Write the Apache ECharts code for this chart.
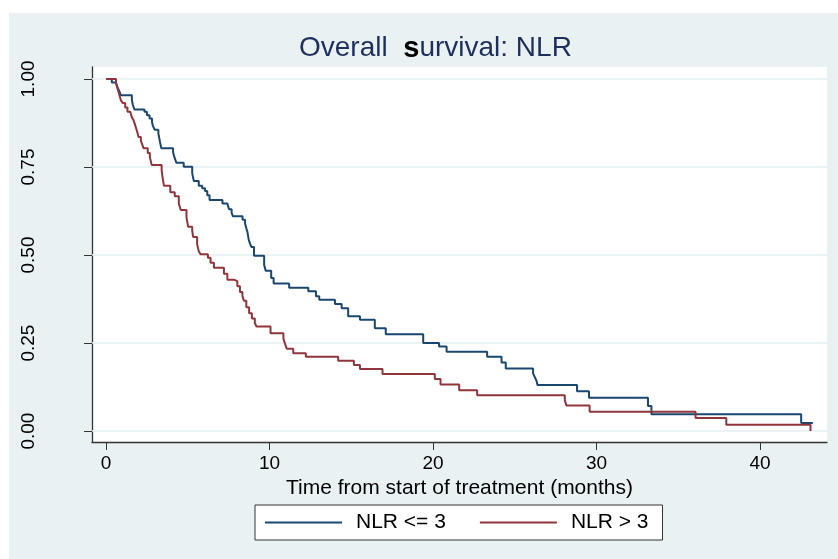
<!DOCTYPE html>
<html>
<head>
<meta charset="utf-8">
<script src="https://cdn.jsdelivr.net/npm/echarts@6/dist/echarts.min.js"></script>
<style>
  html, body { margin: 0; padding: 0; background: #ffffff; }
  #chart { width: 838px; height: 559px; }
</style>
</head>
<body>
<div id="chart"></div>
<script>
// survival curves (time in months, survival proportion)
var blueTime = [0, 0.35, 0.6, 0.7, 0.82, 0.9, 1.58, 1.64, 1.74, 2.35, 2.5, 2.66, 2.81, 2.87, 2.98, 3.2, 3.3, 3.38,
  4.1, 4.18, 4.3, 4.75, 5.27, 5.37, 5.67, 5.88, 6.05, 6.19, 6.33, 7.12, 7.42, 7.52, 7.68, 7.76, 8.35, 8.5, 8.58,
  8.65, 8.72, 8.8, 8.89, 9.05, 9.67, 9.77, 10.1, 10.25, 11.2, 12.37, 12.84, 13.04, 14.0, 14.41, 14.81, 15.53,
  16.44, 17.11, 19.4, 20.37, 20.83, 23.31, 24.19, 24.45, 26.12, 26.22, 26.33, 26.39, 28.81, 29.54, 33.15, 33.36,
  42.52, 43.23];
var blueSurv = [1.0, 0.99, 0.985, 0.977, 0.964, 0.954, 0.94, 0.926, 0.913, 0.907, 0.897, 0.888, 0.878, 0.866, 0.856,
  0.845, 0.821, 0.803, 0.792, 0.778, 0.762, 0.751, 0.732, 0.71, 0.697, 0.69, 0.682, 0.67, 0.656, 0.646, 0.641, 0.63,
  0.62, 0.61, 0.6, 0.59, 0.576, 0.565, 0.545, 0.533, 0.523, 0.498, 0.472, 0.455, 0.435, 0.419, 0.407, 0.397, 0.383,
  0.373, 0.361, 0.349, 0.326, 0.316, 0.292, 0.275, 0.25, 0.24, 0.225, 0.211, 0.195, 0.178, 0.164, 0.154, 0.143,
  0.131, 0.113, 0.095, 0.071, 0.048, 0.023, 0.023];

var redTime = [0, 0.61, 0.7, 0.82, 0.9, 1.02, 1.17, 1.31, 1.48, 1.58, 1.68, 1.78, 1.89, 1.99, 2.13, 2.22, 2.3, 2.55,
  2.68, 2.79, 3.4, 3.45, 3.54, 3.93, 4.2, 4.45, 4.57, 4.92, 5.02, 5.27, 5.33, 5.57, 5.67, 5.78, 6.23, 6.39, 6.6,
  7.21, 7.42, 7.82, 8.03, 8.19, 8.34, 8.44, 8.58, 8.75, 8.92, 9.1, 9.2, 10.06, 10.85, 10.97, 11.05, 11.45, 12.22,
  14.2, 15.16, 15.53, 16.91, 20.11, 20.46, 21.6, 22.7, 28.06, 28.16, 29.58, 36.06, 37.94, 43.09];
var redSurv = [1.0, 0.988, 0.973, 0.954, 0.94, 0.932, 0.919, 0.907, 0.902, 0.891, 0.883, 0.869, 0.852, 0.835, 0.824,
  0.813, 0.803, 0.79, 0.778, 0.756, 0.742, 0.722, 0.697, 0.678, 0.667, 0.646, 0.628, 0.607, 0.58, 0.569, 0.551,
  0.531, 0.511, 0.502, 0.492, 0.478, 0.464, 0.447, 0.43, 0.426, 0.411, 0.395, 0.383, 0.37, 0.352, 0.335, 0.32,
  0.307, 0.297, 0.278, 0.262, 0.245, 0.234, 0.221, 0.211, 0.2, 0.188, 0.176, 0.162, 0.148, 0.132, 0.116, 0.102,
  0.088, 0.073, 0.055, 0.037, 0.018, 0.0];

var seriesNames = ['NLR <= 3', 'NLR > 3'];
var yTicks = [0, 0.25, 0.5, 0.75, 1];
var xTicks = [0, 10, 20, 30, 40];

function pairs(t, v) {
  var out = [];
  for (var i = 0; i < t.length; i++) out.push([t[i], v[i]]);
  return out;
}

var font = 'Liberation Sans, Arial, sans-serif';
var chart = echarts.init(document.getElementById('chart'));

chart.setOption({
  animation: false,
  backgroundColor: '#ffffff',
  graphic: [{
    type: 'rect', z: -10, silent: true,
    shape: { x: 9, y: 13, width: 829, height: 546 },
    style: { fill: '#EAF1F3' }
  }],
  title: {
    text: 'Overall  {s|s}urvival: NLR',
    left: 294, top: 29,
    textStyle: {
      fontFamily: font, fontSize: 28, fontWeight: 'normal', color: '#1E2F5C',
      rich: { s: { fontFamily: font, fontSize: 29, fontWeight: 'bold', color: '#000000' } }
    }
  },
  grid: {
    left: 92, top: 67, right: 11, bottom: 117,
    show: true, backgroundColor: '#ffffff', borderWidth: 0
  },
  xAxis: {
    type: 'value', min: -0.86, max: 44.1,
    name: 'Time from start of treatment (months)',
    nameLocation: 'middle', nameGap: 33,
    nameTextStyle: { fontFamily: font, fontSize: 21, color: '#000' },
    axisLine: { show: true, onZero: false, lineStyle: { color: '#333', width: 1.3 } },
    axisTick: { show: true, customValues: xTicks, length: 8, lineStyle: { color: '#333' } },
    axisLabel: { customValues: xTicks, margin: 12, fontFamily: font, fontSize: 19, color: '#000' },
    splitLine: { show: false }
  },
  yAxis: {
    type: 'value', min: -0.031, max: 1.034,
    axisLine: { show: true, onZero: false, lineStyle: { color: '#333', width: 1.3 } },
    axisTick: { show: true, customValues: yTicks, length: 8, lineStyle: { color: '#333' } },
    axisLabel: {
      customValues: yTicks, rotate: 90, margin: 54, fontFamily: font, fontSize: 19, color: '#000',
      formatter: function (v) { return v.toFixed(2); }
    },
    splitLine: { show: false }
  },
  legend: {
    left: 255, top: 505,
    data: seriesNames,
    icon: 'rect', itemWidth: 77, itemHeight: 2, itemGap: 34,
    padding: [7, 14, 7, 10],
    backgroundColor: '#ffffff', borderColor: '#333', borderWidth: 1,
    textStyle: { fontFamily: font, fontSize: 21, color: '#000', padding: [0, 0, 0, 9] }
  },
  series: [{
    type: 'line', name: 'grid', z: 1, data: [], silent: true,
    markLine: {
      silent: true, symbol: 'none', z: 1, label: { show: false },
      lineStyle: { color: '#E6EFF1', width: 1.5, type: 'solid' },
      data: yTicks.map(function (v) { return { yAxis: v }; })
    }
  }, {
    type: 'line', name: seriesNames[0], step: 'end', showSymbol: false,
    data: pairs(blueTime, blueSurv),
    itemStyle: { color: '#1A476F' },
    lineStyle: { color: '#1A476F', width: 2 }
  }, {
    type: 'line', name: seriesNames[1], step: 'end', showSymbol: false,
    data: pairs(redTime, redSurv),
    itemStyle: { color: '#90353B' },
    lineStyle: { color: '#90353B', width: 2 }
  }]
});
</script>
</body>
</html>
